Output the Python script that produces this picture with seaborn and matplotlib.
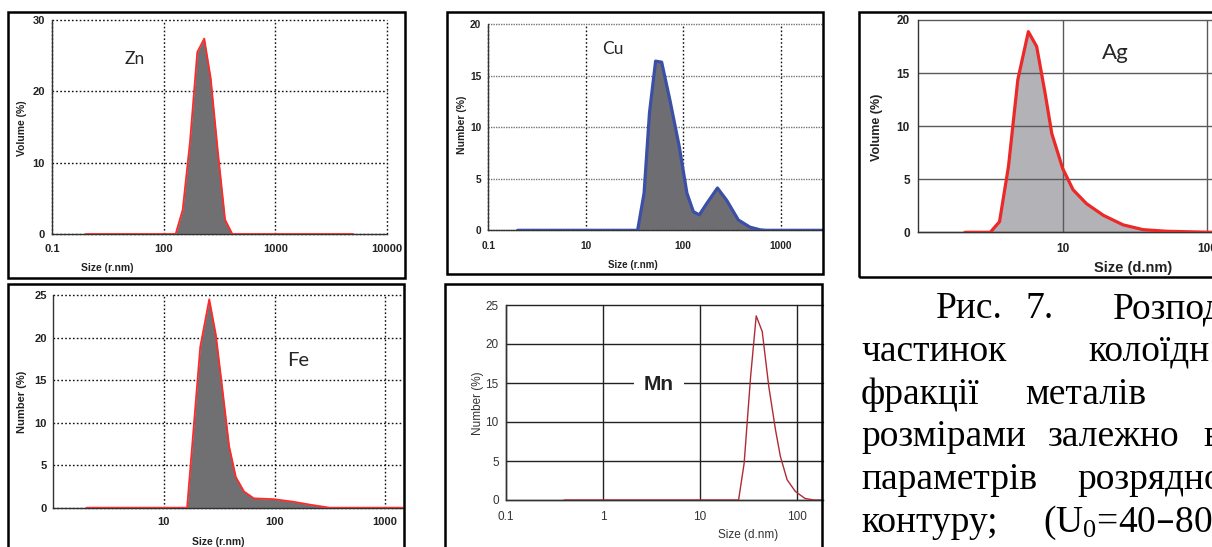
import numpy as np
import matplotlib
matplotlib.use("Agg")
import matplotlib.pyplot as plt
import seaborn as sns
from matplotlib.ticker import LogLocator, NullFormatter, MultipleLocator
from matplotlib.patches import Rectangle

# ---- particle size distributions (size, %) ----
zn_size = [20, 128, 148, 172, 200, 231, 264, 306, 355, 412, 5000]
zn_volume = [0, 0, 3.4, 12.9, 25.5, 27.4, 21.8, 11.5, 2.0, 0, 0]

cu_size = [2, 34, 39.6, 45, 52, 60, 73, 91, 109, 127, 146, 174, 224, 279, 367, 484, 613, 700, 2710]
cu_number = [0, 0, 3.6, 11.4, 16.4, 16.3, 12.6, 8.1, 3.6, 1.8, 1.5, 2.6, 4.1, 2.9, 1.0, 0.3, 0.05, 0, 0]

ag_size = [2.1, 3.15, 3.65, 4.21, 4.89, 5.78, 6.6, 7.55, 8.4, 10, 11.8, 14.6, 19.1, 26.2, 36, 52, 93, 108]
ag_volume = [0, 0, 1.0, 6.2, 14.4, 18.9, 17.5, 13.1, 9.3, 6.0, 4.0, 2.7, 1.6, 0.7, 0.25, 0.1, 0.02, 0]

fe_size = [2, 16.2, 21.3, 25.7, 29.5, 33.9, 38.9, 44.7, 53, 65, 99, 148, 211, 298, 310, 1450]
fe_number = [0, 0, 18.9, 24.5, 20.3, 13.8, 7.2, 3.6, 1.9, 1.1, 1.0, 0.7, 0.35, 0.05, 0, 0]

mn_size = [0.4, 24.9, 28.4, 33.1, 37.8, 43.6, 51, 59.7, 67, 78.6, 95.5, 120, 148, 184]
mn_number = [0, 0, 4.7, 15.8, 23.6, 21.6, 14.5, 9.0, 5.6, 2.6, 1.1, 0.2, 0, 0]

# tick labels as printed on each instrument plot
zn_xticks, zn_xlabels = [10, 100, 1000, 10000], ["0.1", "100", "1000", "10000"]
cu_xticks, cu_xlabels = [1, 10, 100, 1000], ["0.1", "10", "100", "1000"]
ag_xticks, ag_xlabels = [10, 100], ["10", "100"]
fe_xticks, fe_xlabels = [10, 100, 1000], ["10", "100", "1000"]
mn_xticks, mn_xlabels = [0.1, 1, 10, 100], ["0.1", "1", "10", "100"]

# justified caption: (word, left edge in px) per line
caption_lines = [
    [("Рис.", 936), ("7.", 1026), ("Розпод", 1113)],
    [("частинок", 861), ("колоїдн", 1088)],
    [("фракції", 861), ("металів", 1025)],
    [("розмірами", 861), ("залежно", 1048), ("в", 1203)],
    [("параметрів", 861), ("розрядно", 1077)],
    [("контуру;", 861), (r"(U$\mathregular{_0}$=40–80", 1043)],
]

sns.set_style("white")
plt.rcParams["font.family"] = ["Liberation Sans", "DejaVu Sans"]

W, H = 1212, 547
fig = plt.figure(figsize=(W / 100, H / 100), dpi=100)
fig.patch.set_facecolor("white")


def fx(px):
    return px / W


def fy(py):
    return 1 - py / H


def add_axes(x0, y0, x1, y1):
    return fig.add_axes([fx(x0), fy(y1), (x1 - x0) / W, (y1 - y0) / H])


def frame(x0, y0, x1, y1):
    fig.add_artist(Rectangle((fx(x0), fy(y1)), (x1 - x0) / W, (y1 - y0) / H,
                             transform=fig.transFigure, fill=False,
                             lw=1.8, ec="black", zorder=10))


def style(ax, xlim, xticks, xlabels, ymax, ystep, fs, weight, color,
          xpad, ypad, grid_kw_x, grid_kw_y, below=True):
    ax.set_xscale("log")
    ax.set_xlim(*xlim)
    ax.set_ylim(0, ymax)
    ax.set_xticks(xticks, labels=xlabels, fontsize=fs, fontweight=weight, color=color)
    ax.xaxis.set_minor_locator(LogLocator(base=10, subs=np.arange(2, 10), numticks=30))
    ax.xaxis.set_minor_formatter(NullFormatter())
    yt = np.arange(0, ymax + 0.1, ystep)
    ax.set_yticks(yt, labels=[f"{v:g}" for v in yt], fontsize=fs, fontweight=weight, color=color)
    ax.yaxis.set_minor_locator(MultipleLocator(ystep / 2))
    for s in ("top", "right"):
        ax.spines[s].set_visible(False)
    for s in ("left", "bottom"):
        ax.spines[s].set_color("#333333")
        ax.spines[s].set_linewidth(1.0)
    ax.tick_params(axis="x", which="both", direction="inout", length=4, width=0.9,
                   color="#333333", pad=xpad)
    ax.tick_params(axis="y", which="major", direction="out", length=3.5, width=0.9,
                   color="#333333", pad=ypad)
    ax.tick_params(axis="y", which="minor", direction="out", length=2.5, width=0.9,
                   color="#333333")
    ax.set_axisbelow(below)
    ax.grid(True, axis="x", which="major", **grid_kw_x)
    ax.grid(True, axis="y", which="major", **grid_kw_y)
    ax.grid(False, which="minor")
    for gl in ax.get_xgridlines() + ax.get_ygridlines():
        gl.set_clip_on(False)
    ax.set_facecolor("none")


def labels(ax, xlab, ylab, xpos, ypos, fs, weight, color):
    ax.set_xlabel(xlab, fontsize=fs[0], fontweight=weight, color=color)
    ax.set_ylabel(ylab, fontsize=fs[1], fontweight=weight, color=color)
    ax.xaxis.set_label_coords(fx(xpos[0]), fy(xpos[1]), transform=fig.transFigure)
    ax.yaxis.set_label_coords(fx(ypos[0]), fy(ypos[1]), transform=fig.transFigure)
    ax.xaxis.label.set_va("center")
    ax.yaxis.label.set_va("center")


def curve(ax, x, y, color, lw, fill=None):
    if fill is not None:
        ax.fill_between(x, 0, y, color=fill, lw=0, zorder=1)
    sns.lineplot(x=x, y=y, ax=ax, color=color, linewidth=lw, zorder=3,
                 solid_joinstyle="round", solid_capstyle="round")


dotted_black = dict(color="#111111", linestyle=(0, (1.2, 1.6)), linewidth=1.0)
dotted_gray = dict(color="#777777", linestyle=(0, (1.0, 0.8)), linewidth=1.0)
solid_gray = dict(color="#5a5a5a", linestyle="-", linewidth=1.0)
solid_black = dict(color="#222222", linestyle="-", linewidth=1.0)

# ---- Zn ----
frame(8, 12, 405, 278)
ax = add_axes(52, 20, 387, 234)
curve(ax, zn_size, zn_volume, "#ff2a2a", 1.3, fill="#707073")
style(ax, (10, 10000), zn_xticks, zn_xlabels, 30, 10, 8, "bold", "#222222",
      5, 1.5, dotted_black, dotted_black)
labels(ax, "Size (r.nm)", "Volume (%)", (107, 268), (22, 128), (7.5, 7.5), "bold", "#222222")
fig.text(fx(135), fy(59), "Zn", ha="center", va="center", fontsize=12.5, family="Lato")

# ---- Cu ----
frame(447, 12, 823, 274)
ax = add_axes(488.3, 24, 823, 230.3)
curve(ax, cu_size, cu_number, "#3b4fa6", 2.3, fill="#6e6e72")
style(ax, (1, 2710), cu_xticks, cu_xlabels, 20, 5, 7.3, "bold", "#222222",
      6, 1.5, dotted_black, dotted_gray)
labels(ax, "Size (r.nm)", "Number (%)", (633, 265), (461.7, 125), (7, 7.5), "bold", "#222222")
fig.text(fx(612.7), fy(49.3), "Cu", ha="center", va="center", fontsize=12.5, family="Lato")

# ---- Ag ----
frame(859, 12, 1216, 277)
ax = add_axes(918.3, 20, 1212, 232.3)
curve(ax, ag_size, ag_volume, "#ec2828", 2.3, fill="#b3b3b7")
style(ax, (1, 108), ag_xticks, ag_xlabels, 20, 5, 8.5, "bold", "#222222",
      6, 2.5, solid_gray, solid_gray, below="line")
ax.yaxis.set_minor_locator(MultipleLocator(2.5))
labels(ax, "Size (d.nm)", "Volume (%)", (1133, 268), (876.7, 127), (10.5, 9), "bold", "#222222")
fig.text(fx(1115), fy(52.7), "Ag", ha="center", va="center", fontsize=16, family="Lato")

# ---- Fe ----
frame(8, 284, 404, 552)
ax = add_axes(53.3, 295, 403, 507.7)
curve(ax, fe_size, fe_number, "#ff2a2a", 1.3, fill="#707073")
style(ax, (1, 1450), fe_xticks, fe_xlabels, 25, 5, 8, "bold", "#222222",
      5, 1.0, dotted_black, dotted_black)
labels(ax, "Size (r.nm)", "Number (%)", (218, 541.7), (21.7, 401.7), (7.5, 8), "bold", "#222222")
fig.text(fx(298.3), fy(360), "Fe", ha="center", va="center", fontsize=14.5, family="Lato")

# ---- Mn ----
frame(445, 284, 822, 552)
ax = add_axes(505.7, 305, 823, 500)
curve(ax, mn_size, mn_number, "#b02a36", 1.0)
style(ax, (0.1, 184), mn_xticks, mn_xlabels, 25, 5, 8.5, "normal", "#333333",
      6, 1.5, solid_black, solid_black)
labels(ax, "Size (d.nm)", "Number (%)", (748, 535), (478, 403), (8.5, 8.5), "normal", "#333333")
fig.text(fx(659), fy(385), "Mn", ha="center", va="center", fontsize=15, fontweight="bold",
         color="#222222", bbox=dict(facecolor="white", edgecolor="none", pad=7), zorder=6)

# ---- caption ----
baselines = [318, 361, 404, 446, 489, 532]
for words, base in zip(caption_lines, baselines):
    for word, x in words:
        fig.text(fx(x), fy(base), word, ha="left", va="baseline", fontsize=27,
                 family=["Liberation Serif", "DejaVu Serif"], color="black")

fig.savefig("out.png", dpi=100)
